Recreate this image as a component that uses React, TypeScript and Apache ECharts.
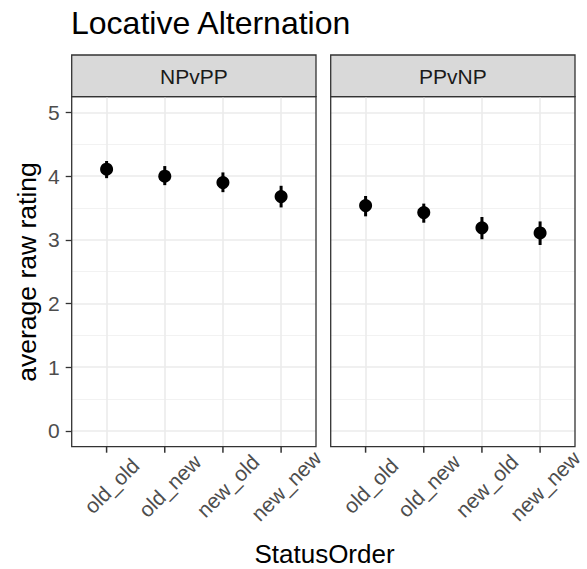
import React, { useEffect, useRef } from "react";
import * as echarts from "echarts";

const categories = ["old_old", "old_new", "new_old", "new_new"];
const panels = ["NPvPP", "PPvNP"];
const npvppMean = [4.11, 4.0, 3.9, 3.68];
const npvppLow = [3.97, 3.86, 3.75, 3.51];
const npvppHigh = [4.24, 4.16, 4.06, 3.85];
const ppvnpMean = [3.54, 3.43, 3.19, 3.11];
const ppvnpLow = [3.37, 3.27, 3.01, 2.92];
const ppvnpHigh = [3.69, 3.57, 3.36, 3.29];
const yTicks = [0, 1, 2, 3, 4, 5];
const yMinorTicks = [0.5, 1.5, 2.5, 3.5, 4.5];
const xTicks = [1, 2, 3, 4];
const yMin = -0.25;
const yMax = 5.25;

const FONT = "'Liberation Sans', Arial, Helvetica, sans-serif";

export default function App() {
  const ref = useRef<HTMLDivElement>(null);
  useEffect(() => {
    if (!ref.current) return;
    const chart = echarts.init(ref.current, null, { renderer: "svg" });
    const grids = [
      { left: 71.7, top: 96.7, width: 244.3, height: 350 },
      { left: 330.7, top: 96.7, width: 244.3, height: 350 },
    ];
    const means = [npvppMean, ppvnpMean];
    const lows = [npvppLow, ppvnpLow];
    const highs = [npvppHigh, ppvnpHigh];

    const xAxis: any[] = [];
    const yAxis: any[] = [];
    const series: any[] = [];
    grids.forEach((g, i) => {
      xAxis.push({
        type: "value",
        gridIndex: i,
        position: "bottom",
        min: 0.4,
        max: 4.6,
        axisLine: { show: false, onZero: false },
        axisTick: { show: false, customValues: xTicks },
        axisLabel: {
          show: true,
          customValues: xTicks,
          formatter: (v: number) => categories[Math.round(v) - 1] ?? "",
          rotate: 45,
          align: "center",
          verticalAlign: "middle",
          margin: 44,
          padding: [0, 0, 0, 14],
          fontSize: 21,
          color: "#4d4d4d",
          fontFamily: FONT,
        },
        splitLine: { show: true, lineStyle: { color: "#ebebeb", width: 1.6 } },
      });
      yAxis.push({
        type: "value",
        gridIndex: i,
        position: "left",
        min: yMin,
        max: yMax,
        axisLine: { show: false, onZero: false },
        axisTick: {
          show: i === 0,
          inside: false,
          customValues: yTicks,
          length: 6,
          lineStyle: { color: "#333333", width: 1.3 },
        },
        axisLabel: {
          show: i === 0,
          customValues: yTicks,
          margin: 12,
          fontSize: 21,
          color: "#4d4d4d",
          fontFamily: FONT,
        },
        splitLine: { show: true, lineStyle: { color: "#ebebeb", width: 1.6 } },
      });
    });
    grids.forEach((g, i) => {
      yAxis.push({
        type: "value",
        gridIndex: i,
        position: "left",
        min: yMin,
        max: yMax,
        axisLine: { show: false, onZero: false },
        axisTick: { show: false, customValues: yMinorTicks },
        axisLabel: { show: false, customValues: yMinorTicks },
        splitLine: { show: true, lineStyle: { color: "#f0f0f0", width: 0.9 } },
      });
    });

    grids.forEach((g, i) => {
      // error bars
      series.push({
        type: "custom",
        xAxisIndex: i,
        yAxisIndex: i,
        z: 3,
        data: categories.map((c, k) => [k + 1, lows[i][k], highs[i][k]]),
        renderItem: (params: any, api: any) => {
          const p1 = api.coord([api.value(0), api.value(1)]);
          const p2 = api.coord([api.value(0), api.value(2)]);
          return {
            type: "line",
            shape: { x1: p1[0], y1: p1[1], x2: p2[0], y2: p2[1] },
            style: { stroke: "#000000", lineWidth: 3 },
          };
        },
      });
      series.push({
        type: "scatter",
        xAxisIndex: i,
        yAxisIndex: i,
        z: 4,
        symbol: "circle",
        symbolSize: 13,
        itemStyle: { color: "#000000", opacity: 1 },
        data: categories.map((c, k) => [k + 1, means[i][k]]),
      });
    });

    const graphic: any[] = [
      {
        type: "text",
        left: 71,
        top: 7,
        style: {
          text: "Locative Alternation",
          font: `32px ${FONT}`,
          fill: "#000000",
        },
      },
      {
        type: "text",
        x: 324.5,
        y: 554,
        style: {
          text: "StatusOrder",
          font: `26px ${FONT}`,
          fill: "#000000",
          align: "center",
          verticalAlign: "middle",
        },
      },
      {
        type: "text",
        x: 27,
        y: 272,
        rotation: Math.PI / 2,
        style: {
          text: "average raw rating",
          font: `26.5px ${FONT}`,
          fill: "#000000",
          align: "center",
          verticalAlign: "middle",
        },
      },
    ];
    grids.forEach((g, i) => {
      graphic.push({
        type: "rect",
        shape: { x: g.left, y: 55, width: g.width, height: g.top - 55 },
        style: { fill: "#d9d9d9", stroke: "#333333", lineWidth: 1.3 },
      });
      graphic.push({
        type: "text",
        x: g.left + g.width / 2,
        y: 76,
        style: {
          text: panels[i],
          font: `21px ${FONT}`,
          fill: "#1a1a1a",
          align: "center",
          verticalAlign: "middle",
        },
      });
      graphic.push({
        type: "rect",
        z: 10,
        shape: { x: g.left, y: g.top, width: g.width, height: g.height },
        style: { fill: "none", stroke: "#333333", lineWidth: 1.3 },
      });
    });

    chart.setOption({
      animation: false,
      backgroundColor: "#ffffff",
      grid: grids.map((g) => ({ ...g, show: true, backgroundColor: "#ffffff", borderWidth: 0 })),
      xAxis,
      yAxis,
      series,
      graphic,
    });

    // x-axis tick marks, positioned through the axes' own scales
    const tickGraphics: any[] = [];
    grids.forEach((g, i) => {
      xTicks.forEach((v) => {
        const p = chart.convertToPixel({ xAxisIndex: i, yAxisIndex: i } as any, [v, yMin]) as number[];
        if (p && isFinite(p[0]) && isFinite(p[1])) {
          tickGraphics.push({
            type: "line",
            z: 100,
            shape: { x1: p[0], y1: p[1], x2: p[0], y2: p[1] + 6 },
            style: { stroke: "#333333", lineWidth: 1.5 },
          });
        }
      });
    });
    chart.setOption({ graphic: [...graphic, ...tickGraphics] });
    return () => chart.dispose();
  }, []);
  return (
    <div
      ref={ref}
      style={{ position: "fixed", left: 0, top: 0, width: 587, height: 569 }}
    />
  );
}
